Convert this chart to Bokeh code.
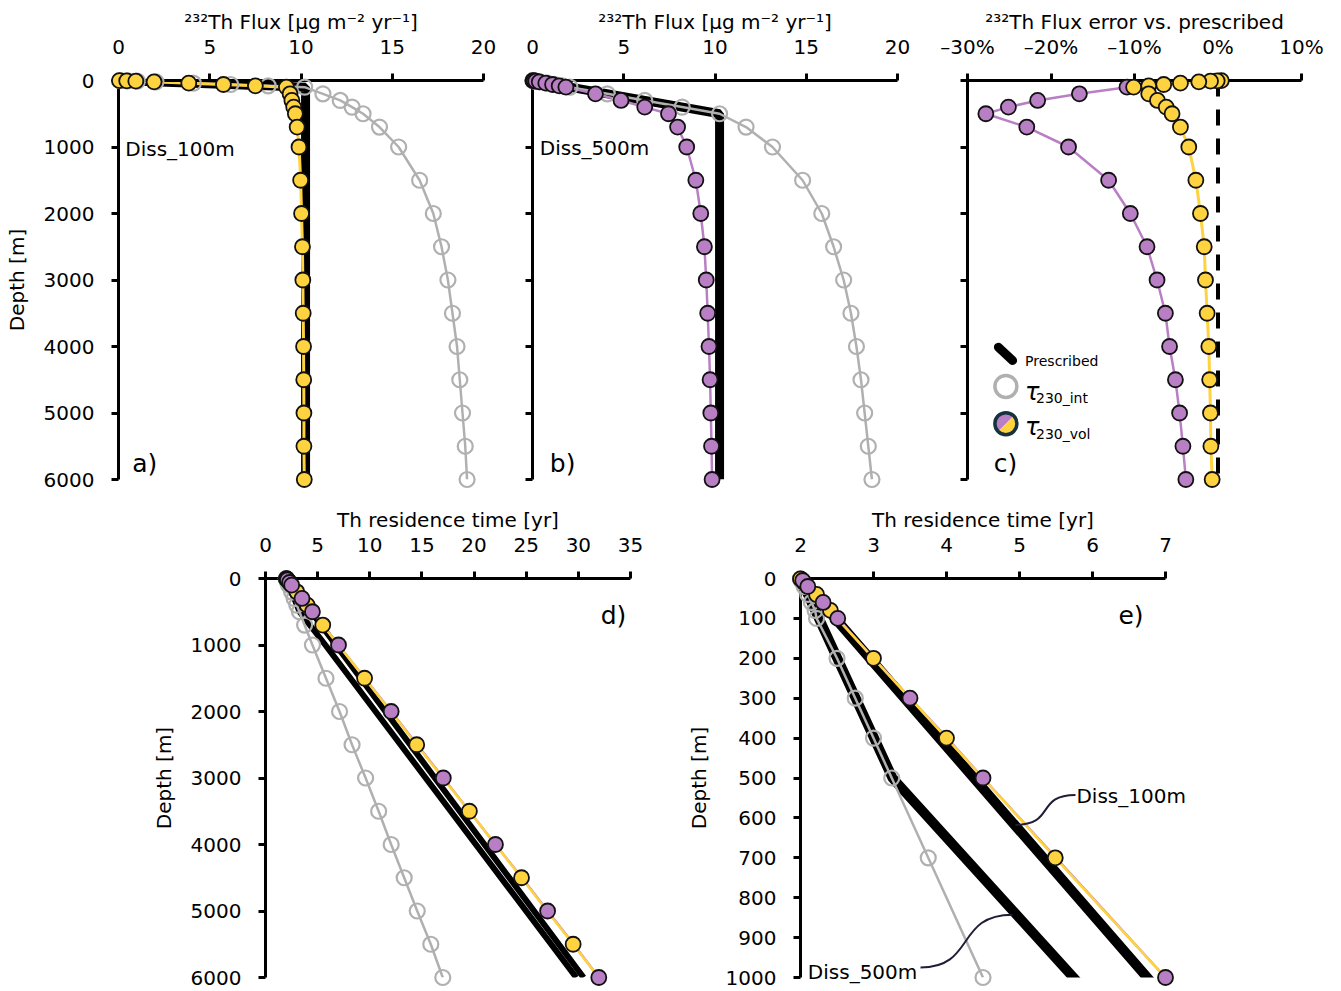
from bokeh.plotting import figure
from bokeh.models import Range1d, FixedTicker
from bokeh.core.properties import value
from bokeh.layouts import column, row
from bokeh.embed import file_html
from bokeh.resources import INLINE

FONT = "DejaVu Sans"
YELLOW = "#FFD23F"
PURPLE = "#B97FC5"
GREY = "#B0B0B0"
DARK = "#231C36"
EDGE = "#111111"

# ---------------- data ----------------
depth = [1, 5, 10, 20, 40, 60, 80, 100, 200, 300, 400, 500, 700, 1000,
         1500, 2000, 2500, 3000, 3500, 4000, 4500, 5000, 5500, 6000]

# panel a : Diss_100m 232Th flux
flux100_vol = [0.05, 0.45, 0.95, 1.95, 3.85, 5.75, 7.5, 9.2, 9.4, 9.5, 9.6, 9.69, 9.79, 9.89,
               9.98, 10.03, 10.08, 10.1, 10.12, 10.14, 10.15, 10.16, 10.16, 10.18]
flux100_int = [0.1, 0.51, 1.03, 2.05, 4.1, 6.15, 8.2, 10.2, 11.2, 12.15, 12.8, 13.4, 14.3, 15.35,
               16.5, 17.25, 17.7, 18.05, 18.3, 18.55, 18.7, 18.85, 19.0, 19.1]
presc100_depth = [0, 100, 6000]
presc100_flux = [0, 10.25, 10.25]

# panel b : Diss_500m 232Th flux
flux500_vol = [0.02, 0.09, 0.18, 0.37, 0.73, 1.1, 1.46, 1.83, 3.45, 4.85, 6.15, 7.45, 7.95, 8.45,
               8.95, 9.22, 9.42, 9.52, 9.6, 9.67, 9.73, 9.77, 9.81, 9.84]
flux500_int = [0.02, 0.1, 0.2, 0.41, 0.82, 1.23, 1.64, 2.05, 4.1, 6.15, 8.2, 10.25, 11.7, 13.15,
               14.8, 15.85, 16.5, 17.05, 17.45, 17.75, 18.0, 18.2, 18.4, 18.6]
presc500_depth = [0, 500, 6000]
presc500_flux = [0, 10.25, 10.25]

# panel c : flux error vs prescribed [%]
err100_vol = [0.4, -0.1, -0.9, -2.3, -4.5, -6.5, -8.3, -10.1, -8.3, -7.25, -6.2, -5.5, -4.5, -3.5,
              -2.65, -2.1, -1.65, -1.5, -1.3, -1.1, -1.0, -0.9, -0.85, -0.7]
err500_depth = [100, 200, 300, 400, 500, 700, 1000, 1500, 2000, 2500, 3000, 3500, 4000, 4500,
                5000, 5500, 6000]
err500_vol = [-10.9, -16.6, -21.6, -25.1, -27.8, -22.9, -17.9, -13.1, -10.5, -8.5, -7.3, -6.3,
              -5.8, -5.1, -4.6, -4.2, -3.85]
err_presc_depth = [0, 6000]
err_presc = [0, 0]

# panels d/e : Th residence time [yr]
tau100_vol = [2.0, 2.03, 2.05, 2.1, 2.22, 2.31, 2.41, 2.5, 3.0, 3.5, 4.0, 4.5, 5.49, 7.0,
              9.5, 12.0, 14.5, 17.0, 19.55, 22.05, 24.55, 27.0, 29.5, 31.95]
tau500_vol = [2.0, 2.03, 2.05, 2.1, 2.2, 2.31, 2.4, 2.51, 3.0, 3.5, 4.01, 4.5, 5.5, 7.0,
              9.52, 12.05, 14.55, 17.05, 19.55, 22.05, 24.6, 27.05, 29.55, 31.96]
tau_int = [2.0, 2.01, 2.03, 2.05, 2.1, 2.15, 2.2, 2.22, 2.5, 2.75, 3.0, 3.25, 3.75, 4.5,
           5.8, 7.1, 8.3, 9.6, 10.85, 12.05, 13.3, 14.55, 15.85, 17.0]
tau_presc100_depth = [0, 1000, 6000]
tau_presc100 = [2.0, 6.75, 30.5]
tau_presc500_depth = [0, 500, 1000, 6000]
tau_presc500 = [2.0, 3.26, 5.74, 29.8]

flux_ticks = [0, 5, 10, 15, 20]
err_ticks = [-30, -20, -10, 0, 10]
err_tick_labels = ["–30%", "–20%", "–10%", "0%", "10%"]
depth_ticks = [0, 1000, 2000, 3000, 4000, 5000, 6000]
tau_ticks_d = [0, 5, 10, 15, 20, 25, 30, 35]
tau_ticks_e = [2, 3, 4, 5, 6, 7]
depth_ticks_e = [0, 100, 200, 300, 400, 500, 600, 700, 800, 900, 1000]

FLUX_LABEL = "²³²Th Flux [μg m⁻² yr⁻¹]"
ERR_LABEL = "²³²Th Flux error vs. prescribed"
TAU_LABEL = "Th residence time [yr]"
DEPTH_LABEL = "Depth [m]"


def make_fig(xr, yr, fw, fh, bl, br, bt, bb, xls=20, xts=3):
    p = figure(x_range=Range1d(*xr), y_range=Range1d(*yr), frame_width=fw, frame_height=fh,
               min_border_left=bl, min_border_right=br, min_border_top=bt, min_border_bottom=bb,
               x_axis_location="above", output_backend="svg", toolbar_location=None)
    p.grid.visible = False
    p.outline_line_color = None
    for ax in p.axis:
        ax.axis_line_width = 3
        ax.axis_line_color = "black"
        ax.major_tick_line_width = 3
        ax.major_tick_out = 7
        ax.major_tick_in = 0
        ax.minor_tick_out = 0
        ax.minor_tick_in = 0
        ax.major_label_text_font = FONT
        ax.major_label_text_font_size = "20px"
        ax.major_label_text_color = "black"
        ax.axis_label_text_font = FONT
        ax.axis_label_text_font_size = "20px"
        ax.axis_label_text_font_style = "normal"
        ax.axis_label_text_color = "black"
    p.xaxis.major_label_standoff = xls
    p.xaxis.axis_label_standoff = xts
    p.yaxis.major_label_standoff = 17
    p.yaxis.axis_label_standoff = 12
    return p


def label(p, x, y, text, size="20px", align="left", baseline="middle", style="normal"):
    r = p.text(x=[x], y=[y], text=[text], text_font=value(FONT), text_font_size=value(size),
               text_align=align, text_baseline=baseline, text_font_style=style,
               text_color="black")
    r.level = "overlay"
    return r


def markers(p, xs, ys, color, size=15):
    r = p.scatter(xs, ys, size=size, fill_color=color, line_color=EDGE, line_width=1.8)
    r.level = "overlay"
    return r


def open_markers(p, xs, ys, size=15):
    r = p.scatter(xs, ys, size=size, fill_color=None, line_color=GREY, line_width=2.2)
    r.level = "overlay"
    return r


# ---------------- panel a ----------------
pa = make_fig((0, 20), (6000, 0), 365, 399, 118, 24, 80, 12)
pa.xaxis.ticker = FixedTicker(ticks=flux_ticks)
pa.yaxis.ticker = FixedTicker(ticks=depth_ticks)
pa.xaxis.axis_label = FLUX_LABEL
pa.yaxis.axis_label = DEPTH_LABEL
pa.line(presc100_flux, presc100_depth, line_color="black", line_width=9)
pa.line(flux100_int, depth, line_color=GREY, line_width=2.5)
open_markers(pa, flux100_int, depth)
pa.line(flux100_vol, depth, line_color=YELLOW, line_width=3)
markers(pa, flux100_vol, depth, YELLOW)
label(pa, 0.37, 1025, "Diss_100m")
label(pa, 0.75, 5760, "a)", size="25px")

# ---------------- panel b ----------------
pb = make_fig((0, 20), (6000, 0), 365, 399, 25, 35, 80, 12)
pb.xaxis.ticker = FixedTicker(ticks=flux_ticks)
pb.yaxis.ticker = FixedTicker(ticks=depth_ticks)
pb.yaxis.major_label_overrides = {t: "" for t in depth_ticks}
pb.xaxis.axis_label = FLUX_LABEL
pb.line(presc500_flux, presc500_depth, line_color="black", line_width=9)
pb.line(flux500_int, depth, line_color=GREY, line_width=2.5)
open_markers(pb, flux500_int, depth)
pb.line(flux500_vol, depth, line_color=PURPLE, line_width=2.5)
markers(pb, flux500_vol, depth, PURPLE)
label(pb, 0.4, 1010, "Diss_500m")
label(pb, 0.95, 5760, "b)", size="25px")

# ---------------- panel c ----------------
pc = make_fig((-30, 10), (6000, 0), 334, 399, 35, 30, 80, 12, xls=15, xts=-2)
pc.xaxis.ticker = FixedTicker(ticks=err_ticks)
pc.xaxis.major_label_overrides = dict(zip(err_ticks, err_tick_labels))
pc.yaxis.ticker = FixedTicker(ticks=depth_ticks)
pc.yaxis.major_label_overrides = {t: "" for t in depth_ticks}
pc.xaxis.axis_label = ERR_LABEL
pc.line(err_presc, err_presc_depth, line_color="black", line_width=4, line_dash="16 13")
pc.line(err500_vol, err500_depth, line_color=PURPLE, line_width=2.5)
markers(pc, err500_vol, err500_depth, PURPLE)
pc.line(err100_vol, depth, line_color=YELLOW, line_width=3)
markers(pc, err100_vol, depth, YELLOW)
label(pc, -26.85, 5760, "c)", size="25px")
# legend
leg = pc.line([-26.3, -24.6], [4010, 4210], line_color="black", line_width=9, line_cap="round")
leg.level = "overlay"
label(pc, -23.1, 4211, "Prescribed", size="14px", baseline="alphabetic")
g = pc.scatter([-25.4], [4600], size=22, fill_color="white", line_color=GREY, line_width=3.5)
g.level = "overlay"
label(pc, -23.1, 4690, "τ", size="24px", style="italic", baseline="alphabetic")
label(pc, -21.8, 4780, "230_int", size="14px", baseline="alphabetic")
w1 = pc.wedge([-25.4], [5160], radius=11, radius_units="screen", start_angle=0.785398,
              end_angle=3.926991, fill_color=PURPLE, line_color=None)
w2 = pc.wedge([-25.4], [5160], radius=11, radius_units="screen", start_angle=3.926991,
              end_angle=7.068583, fill_color=YELLOW, line_color=None)
w1.level = "overlay"
w2.level = "overlay"
o = pc.scatter([-25.4], [5160], size=22, fill_color=None, line_color="#17323F", line_width=3.5)
o.level = "overlay"
label(pc, -23.1, 5214, "τ", size="24px", style="italic", baseline="alphabetic")
label(pc, -21.8, 5310, "230_vol", size="14px", baseline="alphabetic")

# ---------------- panel d ----------------
pd_ = make_fig((0, 35), (6000, 0), 365, 399, 265, 40, 87, 13)
pd_.xaxis.ticker = FixedTicker(ticks=tau_ticks_d)
pd_.yaxis.ticker = FixedTicker(ticks=depth_ticks)
pd_.xaxis.axis_label = TAU_LABEL
pd_.yaxis.axis_label = DEPTH_LABEL
pd_.line(tau_presc500, tau_presc500_depth, line_color="black", line_width=6)
pd_.line(tau_presc100, tau_presc100_depth, line_color="black", line_width=6)
pd_.line(tau_int, depth, line_color=GREY, line_width=2.5)
open_markers(pd_, tau_int, depth)
pd_.line(tau500_vol, depth, line_color=PURPLE, line_width=2.5)
pd_.line(tau100_vol, depth, line_color=YELLOW, line_width=2.5)
markers(pd_, tau100_vol[0::2], depth[0::2], YELLOW)
markers(pd_, tau500_vol[1::2], depth[1::2], PURPLE)
label(pd_, 34.6, 555, "d)", size="25px", align="right")

# ---------------- panel e ----------------
ne = depth.index(1000) + 1
pe = make_fig((2, 7), (1000, 0), 365, 399, 130, 30, 87, 13)
pe.xaxis.ticker = FixedTicker(ticks=tau_ticks_e)
pe.yaxis.ticker = FixedTicker(ticks=depth_ticks_e)
pe.xaxis.axis_label = TAU_LABEL
pe.yaxis.axis_label = DEPTH_LABEL
pe.line(tau_presc500, tau_presc500_depth, line_color="black", line_width=10)
pe.line(tau_presc100, tau_presc100_depth, line_color="black", line_width=10)
pe.line(tau_int[:ne], depth[:ne], line_color=GREY, line_width=2.5)
open_markers(pe, tau_int[:ne], depth[:ne])
pe.line(tau500_vol[:ne], depth[:ne], line_color=PURPLE, line_width=2.5)
pe.line(tau100_vol[:ne], depth[:ne], line_color=YELLOW, line_width=2.5)
markers(pe, tau100_vol[0:ne:2], depth[0:ne:2], YELLOW)
markers(pe, tau500_vol[1:ne:2], depth[1:ne:2], PURPLE)
label(pe, 6.70, 92, "e)", size="25px", align="right")
label(pe, 5.78, 545, "Diss_100m")
label(pe, 3.60, 987, "Diss_500m", align="right")
c1 = pe.bezier(x0=[5.767], y0=[542.5], x1=[4.945], y1=[617.5], cx0=[5.219], cy0=[542.5],
               cx1=[5.493], cy1=[617.5], line_color=DARK, line_width=2)
c2 = pe.bezier(x0=[3.644], y0=[975], x1=[4.904], y1=[842.5], cx0=[4.397], cy0=[975],
               cx1=[4.123], cy1=[842.5], line_color=DARK, line_width=2)
c1.level = "overlay"
c2.level = "overlay"

top = row(pa, pb, pc)
bottom = row(pd_, pe)
layout = column(top, bottom)

open("out.html", "w").write(file_html(layout, INLINE))
